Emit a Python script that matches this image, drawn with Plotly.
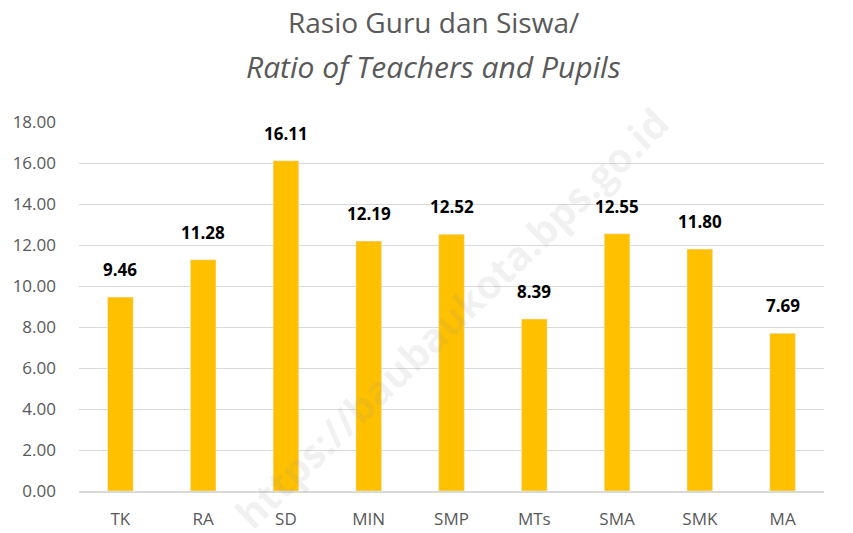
import plotly.graph_objects as go

levels = ["TK", "RA", "SD", "MIN", "SMP", "MTs", "SMA", "SMK", "MA"]
ratios = [9.46, 11.28, 16.11, 12.19, 12.52, 8.39, 12.55, 11.80, 7.69]
yTicks = [0, 2, 4, 6, 8, 10, 12, 14, 16, 18]

fig = go.Figure()
fig.add_trace(go.Bar(
    x=levels, y=ratios,
    marker_color="#FFC000",
    cliponaxis=False,
))

# value labels sit a little higher above the bars than plotly's outside text
for lvl, val in zip(levels, ratios):
    fig.add_annotation(
        x=lvl, y=val, text="<b>%.2f</b>" % val, showarrow=False,
        yanchor="bottom", yshift=14,
        font=dict(family="Open Sans", size=17, color="black"),
    )

# the page body adds an 8px offset, so the figure is a bit smaller than the window
fig.update_layout(
    width=845, height=525,
    paper_bgcolor="white", plot_bgcolor="white",
    margin=dict(l=71, r=29, t=114, b=42),
    bargap=0.69,
    showlegend=False,
)
fig.update_yaxes(
    range=[0, 18], tickvals=yTicks, tickformat=".2f",
    gridcolor="#D9D9D9", gridwidth=1, zeroline=False,
    showline=False, ticks="", ticklabelstandoff=22, automargin=False,
    tickfont=dict(family="Open Sans", size=17, color="#595959"),
)
fig.update_xaxes(
    showline=True, linecolor="#D9D9D9", linewidth=1.5, automargin=False,
    tickfont=dict(family="Open Sans", size=17, color="#595959"),
    ticklabelstandoff=12,
)

# title as two annotations so the lines can be placed freely
fig.add_annotation(
    text="Rasio Guru dan Siswa/", xref="paper", yref="paper",
    x=0.476, y=1.0 + 100 / 369, xanchor="center", yanchor="middle", showarrow=False,
    font=dict(family="Open Sans", size=28, color="#595959"),
)
fig.add_annotation(
    text="<i>Ratio of Teachers and Pupils</i>", xref="paper", yref="paper",
    x=0.476, y=1.0 + 56 / 369, xanchor="center", yanchor="middle", showarrow=False,
    font=dict(family="Open Sans", size=30, color="#595959"),
)

# watermark
fig.add_annotation(
    text="https://baubaukota.bps.go.id", xref="paper", yref="paper",
    x=0.5, y=0.47, showarrow=False, textangle=-44,
    font=dict(family="Open Sans", size=40, color="rgba(150,150,150,0.12)", weight="bold"),
)

fig.write_html("out.html")
